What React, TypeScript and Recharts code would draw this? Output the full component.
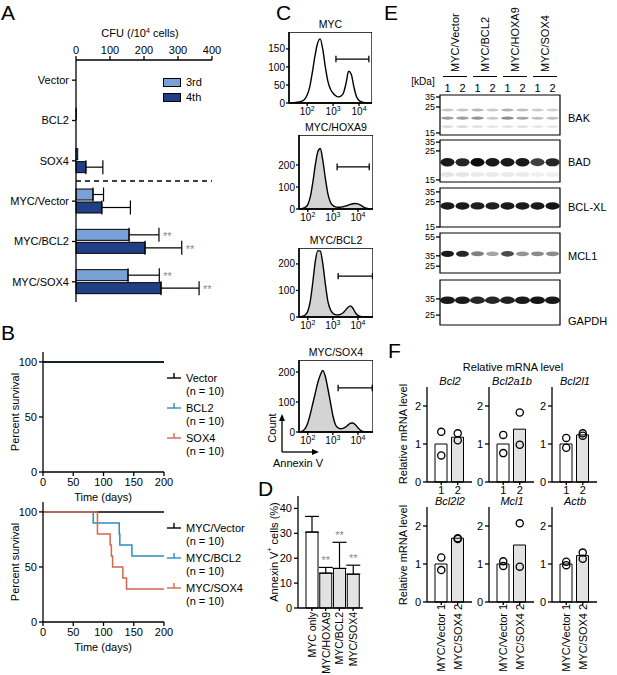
import React from "react";
import {
  Area,
  AreaChart,
  Bar,
  BarChart,
  Cell,
  ComposedChart,
  ErrorBar,
  LabelList,
  Line,
  LineChart,
  ReferenceArea,
  ReferenceLine,
  Scatter,
  ScatterChart,
  XAxis,
  YAxis,
} from "recharts";

const FONT = '"Liberation Sans", Arial, sans-serif';

// A: colony forming units
const cfuGroups = ["Vector", "BCL2", "SOX4", "MYC/Vector", "MYC/BCL2", "MYC/SOX4"];
const cfu3rd = [0, 1, 5, 50, 156, 153];
const cfu3rdErr = [0, 0, 0, 31, 88, 92];
const cfu4th = [0, 0, 29, 76, 203, 250];
const cfu4thErr = [0, 0, 50, 84, 108, 112];
const cfuStars = ["", "", "", "", "**", "**"];
const cfuTicks = [0, 100, 200, 300, 400];

// B: survival curves (time in days, percent)
const survTicksX = [0, 50, 100, 150, 200];
const survTicksY = [0, 50, 100];
const vectorT = [0, 200];
const vectorP = [100, 100];
const bcl2T = [0, 200];
const bcl2P = [100, 100];
const sox4T = [0, 200];
const sox4P = [100, 100];
const mycVectorT = [0, 200];
const mycVectorP = [100, 100];
const mycBcl2T = [0, 83, 126, 127, 147, 200];
const mycBcl2P = [100, 90, 80, 70, 60, 60];
const mycSox4T = [0, 90, 111, 113, 115, 132, 138, 200];
const mycSox4P = [100, 80, 70, 60, 50, 40, 30, 30];

// C: annexin V histograms (log10 fluorescence bins)
const histBins = [
  1.4, 1.5, 1.6, 1.7, 1.8, 1.9, 2.0, 2.1, 2.2, 2.3, 2.4, 2.5, 2.6, 2.7, 2.8, 2.9,
  3.0, 3.1, 3.2, 3.3, 3.4, 3.5, 3.6, 3.7, 3.8, 3.9, 4.0, 4.1, 4.2, 4.3, 4.4, 4.5,
];
const histMyc = [0, 1, 2, 3, 5, 10, 22, 45, 85, 130, 165, 178, 150, 100, 60, 38, 27, 20, 17, 19, 28, 55, 88, 80, 45, 18, 7, 3, 1, 0, 0, 0];
const histHoxa9 = [0, 0, 0, 1, 3, 8, 20, 55, 120, 200, 260, 275, 220, 140, 70, 32, 16, 10, 8, 8, 10, 13, 17, 21, 24, 25, 23, 18, 11, 5, 2, 0];
const histBcl2 = [0, 0, 0, 1, 3, 8, 22, 60, 130, 210, 250, 248, 200, 125, 60, 28, 14, 9, 8, 10, 15, 25, 36, 42, 33, 16, 6, 2, 1, 0, 0, 0];
const histSox4 = [0, 0, 0, 1, 4, 12, 30, 60, 95, 130, 165, 190, 205, 185, 145, 100, 55, 25, 14, 11, 12, 16, 23, 29, 30, 24, 14, 6, 2, 0, 0, 0];
const histCounts = [histMyc, histHoxa9, histBcl2, histSox4];
const histTitles = ["MYC", "MYC/HOXA9", "MYC/BCL2", "MYC/SOX4"];
const histYMax = [197, 336, 260, 240];
const histYTicks = [[0, 50, 100, 150], [0, 100, 200], [0, 100, 200], [0, 100, 200]];
const histGateX = [[3.11, 4.38], [3.17, 4.45], [3.21, 4.58], [3.21, 4.57]];
const histGateY = [122, 191, 154, 147];

// D: annexin V+ cells
const annexGroups = ["MYC only", "MYC/HOXA9", "MYC/BCL2", "MYC/SOX4"];
const annexMean = [30.5, 14.0, 15.9, 13.6];
const annexErr = [6.3, 2.3, 10.5, 3.6];
const annexStars = ["", "**", "**", "**"];
const annexTicks = [0, 10, 20, 30, 40];

// E: western blots
const laneGroups = ["MYC/Vector", "MYC/BCL2", "MYC/HOXA9", "MYC/SOX4"];
const laneNumbers = ["1", "2", "1", "2", "1", "2", "1", "2"];
const lanes = [1, 2, 3, 4, 5, 6, 7, 8];
const blotNames = ["BAK", "BAD", "BCL-XL", "MCL1", "GAPDH"];
const blotMarkers = [["35", "25", "15"], ["35", "25", "15"], ["35", "25", "15"], ["55", "35", "25"], ["35", "25"]];
const blotMarkerPos = [[0.05, 0.3, 0.95], [0.05, 0.26, 0.95], [0.1, 0.35, 1.0], [0.1, 0.57, 0.83], [0.42, 0.78]];
const blotBandPos = [[0.375, 0.58, 0.79], [0.53, 0.82], [0.46], [0.52], [0.45]];
const blotBandA = [
  [
    [0.22, 0.22, 0.28, 0.2, 0.3, 0.25, 0.2, 0.18],
    [0.38, 0.38, 0.42, 0.22, 0.45, 0.35, 0.25, 0.25],
    [0.15, 0.15, 0.12, 0.1, 0.12, 0.12, 0.1, 0.1],
  ],
  [
    [0.95, 0.9, 1.0, 0.95, 0.95, 0.95, 0.8, 0.9],
    [0.1, 0.1, 0.08, 0.08, 0.08, 0.08, 0.06, 0.06],
  ],
  [[0.95, 0.95, 0.93, 0.93, 0.95, 0.95, 0.95, 0.97]],
  [[0.95, 0.9, 0.5, 0.35, 0.75, 0.42, 0.45, 0.45]],
  [[0.95, 0.95, 0.9, 0.9, 0.92, 0.95, 0.97, 0.95]],
];

// F: relative mRNA level
const mrnaGenes = ["Bcl2", "Bcl2a1b", "Bcl2l1", "Bcl2l2", "Mcl1", "Actb"];
const mrnaMean1 = [1, 1, 1, 1, 1, 1];
const mrnaMean2 = [1.18, 1.39, 1.24, 1.68, 1.5, 1.22];
const mrnaRep1A = [1.32, 1.24, 1.16, 1.17, 1.07, 1.06];
const mrnaRep1B = [0.7, 0.76, 0.9, 0.84, 0.95, 0.97];
const mrnaRep2A = [1.28, 1.83, 1.28, 1.68, 2.07, 1.3];
const mrnaRep2B = [1.1, 0.98, 1.22, 1.66, 0.93, 1.14];
const mrnaGroups = ["MYC/Vector", "MYC/SOX4"];
const mrnaTicks = [0, 1, 2];

const AXIS = { stroke: "#000", strokeWidth: 1.3 };
const TICK11 = { fill: "#000", fontSize: 11, fontFamily: FONT };
const TICK10 = { fill: "#000", fontSize: 10, fontFamily: FONT };
const TICK9 = { fill: "#000", fontSize: 9, fontFamily: FONT };
const C3 = "#7aa0d8";
const C4 = "#1f3f86";
const BLUE = "#2b8cc4";
const RED = "#d6664c";
const STAR = "#8a8a8a";

function Txt({ x, y, children, size = 11, anchor = "middle", italic = false }: any) {
  const tx = anchor === "middle" ? "-50%" : anchor === "end" ? "-100%" : "0%";
  return (
    <div
      style={{
        position: "absolute",
        left: x,
        top: y,
        transform: `translate(${tx},-50%)`,
        fontSize: size,
        lineHeight: 1,
        whiteSpace: "nowrap",
        fontStyle: italic ? "italic" : "normal",
      }}
    >
      {children}
    </div>
  );
}

// text reading bottom to top
function VTxt({ x, y, children, size = 11, anchor = "middle" }: any) {
  const ty = anchor === "middle" ? "-50%" : "-100%";
  return (
    <div
      style={{
        position: "absolute",
        left: x,
        top: y,
        transform: `translate(-50%,${ty}) rotate(180deg)`,
        writingMode: "vertical-rl",
        fontSize: size,
        lineHeight: 1,
        whiteSpace: "nowrap",
      }}
    >
      {children}
    </div>
  );
}

function Letter({ x, y, children }: any) {
  return (
    <div style={{ position: "absolute", left: x, top: y, fontSize: 21, lineHeight: 1.1 }}>{children}</div>
  );
}

function boxOf(p: any) {
  return p.viewBox && p.viewBox.width !== undefined ? p.viewBox : p;
}

// horizontal bar with its significance mark placed past the error bar
const cfuShape = (vals: number[], errs: number[], fill: string) => (p: any) => {
  const i = cfuGroups.indexOf(p.payload ? p.payload.g : "");
  const w = Math.max(0, p.width || 0);
  const showStar = i >= 0 && cfuStars[i] && vals[i] > 0;
  const end = showStar ? p.x + (w * (vals[i] + errs[i])) / vals[i] : 0;
  return (
    <g>
      <rect x={p.x} y={p.y} width={w} height={p.height} fill={fill} stroke="#000" strokeWidth={1} />
      {showStar ? (
        <text x={end + 4} y={p.y + p.height / 2 + 5} fontSize={11} fill={STAR} fontFamily={FONT}>
          {cfuStars[i]}
        </text>
      ) : null}
    </g>
  );
};

function PanelA() {
  const data = cfuGroups.map((g, i) => ({
    g,
    r3: cfu3rd[i],
    r4: cfu4th[i],
    e3: cfu3rdErr[i] > 0 ? [0, cfu3rdErr[i]] : null,
    e4: cfu4thErr[i] > 0 ? [0, cfu4thErr[i]] : null,
  }));
  return (
    <>
      <Letter x={1} y={1}>A</Letter>
      <Txt x={140} y={33}>
        CFU (/10<sup style={{ fontSize: 7 }}>4</sup> cells)
      </Txt>
      <div style={{ position: "absolute", left: 0, top: 0 }}>
        <BarChart
          width={240}
          height={302}
          data={data}
          layout="vertical"
          margin={{ top: 30, right: 28, bottom: 0, left: 0 }}
          barSize={11}
          barGap={2}
        >
          <XAxis
            type="number"
            orientation="top"
            domain={[0, 400]}
            ticks={cfuTicks}
            height={30}
            tickSize={4}
            tickMargin={2}
            axisLine={AXIS}
            tickLine={AXIS}
            tick={TICK11}
          />
          <YAxis
            type="category"
            dataKey="g"
            width={76}
            tickSize={4}
            tickMargin={3}
            interval={0}
            axisLine={AXIS}
            tickLine={AXIS}
            tick={TICK11}
          />
          <ReferenceLine y="MYC/Vector" position="start" stroke="#000" strokeWidth={1.3} strokeDasharray="5 4" />
          <Bar dataKey="r3" fill={C3} shape={cfuShape(cfu3rd, cfu3rdErr, C3)} isAnimationActive={false}>
            <ErrorBar dataKey="e3" direction="x" width={7} stroke="#000" strokeWidth={1.2} isAnimationActive={false} />
          </Bar>
          <Bar dataKey="r4" fill={C4} shape={cfuShape(cfu4th, cfu4thErr, C4)} isAnimationActive={false}>
            <ErrorBar dataKey="e4" direction="x" width={7} stroke="#000" strokeWidth={1.2} isAnimationActive={false} />
          </Bar>
        </BarChart>
      </div>
      <div style={{ position: "absolute", left: 163, top: 78, width: 16, height: 7, background: C3, border: "1px solid #000" }} />
      <div style={{ position: "absolute", left: 163, top: 93, width: 16, height: 7, background: C4, border: "1px solid #000" }} />
      <Txt x={186} y={82} anchor="start">3rd</Txt>
      <Txt x={186} y={97} anchor="start">4th</Txt>
    </>
  );
}

function LegendItem({ x, y, color, label }: any) {
  return (
    <>
      <svg style={{ position: "absolute", left: x, top: y - 5 }} width={14} height={10}>
        <line x1={0} y1={6} x2={14} y2={6} stroke={color} strokeWidth={1.4} />
        <line x1={7} y1={1} x2={7} y2={6} stroke={color} strokeWidth={1.4} />
      </svg>
      <Txt x={x + 19} y={y + 1} anchor="start">{label}</Txt>
      <Txt x={x + 19} y={y + 14} anchor="start">(n = 10)</Txt>
    </>
  );
}

function toCurve(t: number[], p: number[]) {
  return t.map((v, i) => ({ t: v, p: p[i] }));
}

function SurvivalChart({ top, curves }: any) {
  return (
    <div style={{ position: "absolute", left: 0, top }}>
      <LineChart width={175} height={160} margin={{ top: 12, right: 11, bottom: 0, left: 0 }}>
        <XAxis
          type="number"
          dataKey="t"
          domain={[0, 200]}
          ticks={survTicksX}
          height={28}
          tickSize={4}
          tickMargin={2}
          axisLine={AXIS}
          tickLine={AXIS}
          tick={TICK11}
        />
        <YAxis
          type="number"
          domain={[0, 109]}
          ticks={survTicksY}
          width={43}
          tickSize={4}
          tickMargin={2}
          axisLine={AXIS}
          tickLine={AXIS}
          tick={TICK11}
        />
        {curves.map((c: any, i: number) => (
          <Line
            key={i}
            data={c.data}
            dataKey="p"
            type="stepAfter"
            stroke={c.color}
            strokeWidth={1.5}
            dot={false}
            activeDot={false}
            isAnimationActive={false}
          />
        ))}
      </LineChart>
    </div>
  );
}

function PanelB() {
  return (
    <>
      <Letter x={1} y={321}>B</Letter>
      <SurvivalChart
        top={340}
        curves={[
          { data: toCurve(sox4T, sox4P), color: RED },
          { data: toCurve(bcl2T, bcl2P), color: BLUE },
          { data: toCurve(vectorT, vectorP), color: "#000" },
        ]}
      />
      <Txt x={103} y={497}>Time (days)</Txt>
      <VTxt x={15} y={412}>Percent survival</VTxt>
      <LegendItem x={167} y={377} color="#000" label="Vector" />
      <LegendItem x={167} y={407} color={BLUE} label="BCL2" />
      <LegendItem x={167} y={437} color={RED} label="SOX4" />

      <SurvivalChart
        top={490}
        curves={[
          { data: toCurve(mycVectorT, mycVectorP), color: "#000" },
          { data: toCurve(mycBcl2T, mycBcl2P), color: BLUE },
          { data: toCurve(mycSox4T, mycSox4P), color: RED },
        ]}
      />
      <Txt x={103} y={647}>Time (days)</Txt>
      <VTxt x={15} y={562}>Percent survival</VTxt>
      <LegendItem x={167} y={527} color="#000" label="MYC/Vector" />
      <LegendItem x={167} y={557} color={BLUE} label="MYC/BCL2" />
      <LegendItem x={167} y={587} color={RED} label="MYC/SOX4" />
    </>
  );
}

const LogTick = (p: any) => (
  <text x={p.x} y={p.y} dy={8} textAnchor="middle" fontSize={10} fontFamily={FONT} fill="#000">
    10
    <tspan dy={-4} fontSize={7}>
      {p.payload.value}
    </tspan>
  </text>
);

function Histo({ i, left, top, plotW, plotH, xDomain }: any) {
  const yW = 25;
  const data = histBins.map((x, k) => ({ x, c: histCounts[i][k] }));
  const yMax = histYMax[i];
  const cap = yMax * 0.045;
  const [g1, g2] = histGateX[i];
  const gy = histGateY[i];
  const seg = { stroke: "#000", strokeWidth: 1.3 };
  return (
    <>
      <Txt x={left + plotW / 2} y={top - 8} size={10.5}>{histTitles[i]}</Txt>
      <div style={{ position: "absolute", left: left - yW, top }}>
        <AreaChart width={yW + plotW} height={plotH + 16} data={data} margin={{ top: 0, right: 0, bottom: 0, left: 0 }}>
          <XAxis
            type="number"
            dataKey="x"
            domain={xDomain}
            allowDataOverflow
            ticks={[2, 3, 4]}
            tick={(p: any) => <LogTick {...p} />}
            height={16}
            tickSize={3}
            tickMargin={1}
            axisLine={AXIS}
            tickLine={AXIS}
          />
          <YAxis
            type="number"
            domain={[0, yMax]}
            allowDataOverflow
            ticks={histYTicks[i]}
            interval={0}
            width={yW}
            tickSize={3}
            tickMargin={1}
            axisLine={AXIS}
            tickLine={AXIS}
            tick={TICK10}
          />
          <Area
            type="monotone"
            dataKey="c"
            stroke="#000"
            strokeWidth={1.4}
            fill={i === 0 ? "none" : "#d4d4d4"}
            fillOpacity={1}
            dot={false}
            activeDot={false}
            isAnimationActive={false}
          />
          <ReferenceArea x1={xDomain[0]} x2={xDomain[1]} y1={0} y2={yMax} fill="none" stroke="#000" strokeWidth={1.3} />
          <ReferenceLine segment={[{ x: g1, y: gy }, { x: g2, y: gy }]} {...seg} />
          <ReferenceLine segment={[{ x: g1, y: gy - cap }, { x: g1, y: gy + cap }]} {...seg} />
          <ReferenceLine segment={[{ x: g2, y: gy - cap }, { x: g2, y: gy + cap }]} {...seg} />
        </AreaChart>
      </div>
    </>
  );
}

function PanelC() {
  return (
    <>
      <Letter x={276} y={1}>C</Letter>
      <Histo i={0} left={289} top={32} plotW={83} plotH={71} xDomain={[1.3, 4.5]} />
      <Histo i={1} left={299} top={135} plotW={74} plotH={74} xDomain={[1.65, 4.6]} />
      <Histo i={2} left={299} top={248} plotW={74} plotH={69} xDomain={[1.65, 4.6]} />
      <Histo i={3} left={299} top={360} plotW={74} plotH={72} xDomain={[1.65, 4.6]} />
      <svg style={{ position: "absolute", left: 276, top: 413 }} width={46} height={44}>
        <line x1={6} y1={39} x2={6} y2={6} stroke="#000" strokeWidth={1.3} />
        <polygon points="6,1 3,8 9,8" fill="#000" />
        <line x1={6} y1={39} x2={38} y2={39} stroke="#000" strokeWidth={1.3} />
        <polygon points="43,39 36,36 36,42" fill="#000" />
      </svg>
      <VTxt x={272} y={428}>Count</VTxt>
      <Txt x={298} y={463}>Annexin V</Txt>
    </>
  );
}

const DTick = (p: any) => (
  <text
    transform={`translate(${p.x},${p.y}) rotate(-90)`}
    textAnchor="end"
    dominantBaseline="central"
    fontSize={10.5}
    fontFamily={FONT}
    fill="#000"
  >
    {p.payload.value}
  </text>
);

function PanelD() {
  const data = annexGroups.map((g, i) => ({ g, v: annexMean[i], e: [0, annexErr[i]], s: annexStars[i] }));
  const stars = (p: any) => {
    const i = p.index;
    if (!annexStars[i]) return null;
    const b = boxOf(p);
    const yTop = b.y + b.height - (b.height * (annexMean[i] + annexErr[i])) / annexMean[i];
    return (
      <text x={b.x + b.width / 2} y={yTop - 3} textAnchor="middle" fontSize={11} fill={STAR} fontFamily={FONT}>
        {annexStars[i]}
      </text>
    );
  };
  return (
    <>
      <Letter x={258} y={477}>D</Letter>
      <VTxt x={273} y={552}>
        Annexin V<sup style={{ fontSize: 7 }}>+</sup> cells (%)
      </VTxt>
      <div style={{ position: "absolute", left: 230, top: 486 }}>
        <BarChart width={140} height={189} data={data} margin={{ top: 10, right: 7, bottom: 0, left: 0 }}>
          <XAxis
            dataKey="g"
            height={67}
            padding={{ left: 7, right: 3 }}
            interval={0}
            tickSize={3}
            tickMargin={1}
            axisLine={AXIS}
            tickLine={AXIS}
            tick={(p: any) => <DTick {...p} />}
          />
          <YAxis
            type="number"
            domain={[0, 45]}
            ticks={annexTicks}
            interval={0}
            width={68}
            tickSize={4}
            tickMargin={2}
            axisLine={AXIS}
            tickLine={AXIS}
            tick={TICK11}
          />
          <Bar dataKey="v" barSize={12} stroke="#000" strokeWidth={1} isAnimationActive={false}>
            {data.map((d, i) => (
              <Cell key={d.g} fill={i === 0 ? "#fff" : "#e2e2e2"} />
            ))}
            <ErrorBar dataKey="e" direction="y" width={7} stroke="#000" strokeWidth={1.2} isAnimationActive={false} />
            <LabelList dataKey="s" content={stars} />
          </Bar>
        </BarChart>
      </div>
    </>
  );
}

const BLOT_LEFT = 440;
const BLOT_W = 120;
const BLOT_PAD = 6;
const laneX = (lane: number) => BLOT_LEFT + ((lane - 0.5) * BLOT_W) / 8;

function Blot({ i, top, h, ry, rx }: any) {
  const data: any[] = [];
  blotBandPos[i].forEach((pos, b) =>
    blotBandA[i][b].forEach((a, l) => data.push({ lane: lanes[l], pos, a }))
  );
  const showLanes = i === 0;
  const xh = showLanes ? 14 : 0;
  const shape = (p: any) => {
    const a = p.payload.a;
    return (
      <ellipse
        cx={p.cx}
        cy={p.cy}
        rx={rx}
        ry={ry * (0.55 + 0.45 * a)}
        fill="#0b0b0b"
        fillOpacity={Math.min(1, a)}
        filter={`url(#bandBlur${i})`}
      />
    );
  };
  return (
    <div style={{ position: "absolute", left: BLOT_LEFT - 34, top: top - xh - BLOT_PAD }}>
      <ScatterChart
        width={34 + BLOT_W + 2}
        height={h + xh + 2 * BLOT_PAD}
        margin={{ top: BLOT_PAD, right: 2, bottom: BLOT_PAD, left: 0 }}
      >
        <defs>
          <filter id={`bandBlur${i}`} x="-50%" y="-100%" width="200%" height="300%">
            <feGaussianBlur stdDeviation="0.7" />
          </filter>
        </defs>
        <XAxis
          type="number"
          dataKey="lane"
          domain={[0.5, 8.5]}
          ticks={lanes}
          interval={0}
          orientation="top"
          hide={!showLanes}
          height={xh}
          axisLine={false}
          tickLine={false}
          tickSize={1}
          tickMargin={2}
          tickFormatter={(v: number) => laneNumbers[v - 1]}
          tick={TICK11}
        />
        <YAxis
          type="number"
          dataKey="pos"
          domain={[0, 1]}
          reversed
          ticks={blotMarkerPos[i]}
          interval={0}
          tickFormatter={(v: number) => blotMarkers[i][blotMarkerPos[i].indexOf(v)]}
          width={34}
          tickSize={4}
          tickMargin={1}
          axisLine={false}
          tickLine={AXIS}
          tick={TICK9}
        />
        <ReferenceArea x1={0.5} x2={8.5} y1={0} y2={1} fill="none" stroke="#000" strokeWidth={1.2} />
        <Scatter data={data} shape={shape} isAnimationActive={false} />
      </ScatterChart>
    </div>
  );
}

function PanelE() {
  const tops = [95, 140, 188, 233, 280];
  const hs = [40, 42, 39, 40, 45];
  const rys = [2.2, 4.3, 3.8, 3.2, 3.8];
  const rxs = [6.3, 7, 7, 6.5, 7.5];
  const labelY = [118, 162, 207, 256, 321];
  return (
    <>
      <Letter x={384} y={1}>E</Letter>
      {laneGroups.map((g, k) => {
        const cx = (laneX(2 * k + 1) + laneX(2 * k + 2)) / 2;
        return (
          <React.Fragment key={g}>
            <VTxt x={cx} y={72} anchor="start">{g}</VTxt>
            <div style={{ position: "absolute", left: cx - 12, top: 76, width: 24, height: 1, background: "#000" }} />
          </React.Fragment>
        );
      })}
      <Txt x={423} y={82} size={10}>[kDa]</Txt>
      {blotNames.map((n, i) => (
        <React.Fragment key={n}>
          <Blot i={i} top={tops[i]} h={hs[i]} ry={rys[i]} rx={rxs[i]} />
          <Txt x={568} y={labelY[i]} anchor="start" size={11}>{n}</Txt>
        </React.Fragment>
      ))}
    </>
  );
}

const Ring = (p: any) => <circle cx={p.cx} cy={p.cy} r={3.6} fill="none" stroke="#000" strokeWidth={1.3} />;

const FTick2 = (p: any) => (
  <g>
    <text
      transform={`translate(${p.x},${p.y + 1}) rotate(-90)`}
      textAnchor="middle"
      dominantBaseline="central"
      fontSize={11}
      fontFamily={FONT}
      fill="#000"
    >
      {p.payload.value}
    </text>
    <text
      transform={`translate(${p.x},${p.y + 7}) rotate(-90)`}
      textAnchor="end"
      dominantBaseline="central"
      fontSize={11}
      fontFamily={FONT}
      fill="#000"
    >
      {mrnaGroups[Number(p.payload.value) - 1]}
    </text>
  </g>
);

function Mrna({ i, left, top, row2 }: any) {
  const data = [
    { g: "1", m: mrnaMean1[i], r1: mrnaRep1A[i], r2: mrnaRep1B[i] },
    { g: "2", m: mrnaMean2[i], r1: mrnaRep2A[i], r2: mrnaRep2B[i] },
  ];
  const plotH = 95;
  const xh = row2 ? 72 : 16;
  return (
    <>
      <Txt x={left + 23} y={top - 6} italic>{mrnaGenes[i]}</Txt>
      <div style={{ position: "absolute", left: left - 22, top }}>
        <ComposedChart width={67} height={plotH + xh} data={data} margin={{ top: 0, right: 0, bottom: 0, left: 0 }}>
          <XAxis
            dataKey="g"
            padding={{ left: 6, right: 6 }}
            height={xh}
            interval={0}
            tickSize={3}
            tickMargin={1}
            axisLine={AXIS}
            tickLine={AXIS}
            tick={row2 ? (p: any) => <FTick2 {...p} /> : TICK11}
          />
          <YAxis
            type="number"
            domain={[0, 2.5]}
            ticks={mrnaTicks}
            interval={0}
            width={22}
            tickSize={4}
            tickMargin={2}
            axisLine={AXIS}
            tickLine={AXIS}
            tick={TICK11}
          />
          <Bar dataKey="m" barSize={12} stroke="#000" strokeWidth={1} isAnimationActive={false}>
            <Cell fill="#fff" />
            <Cell fill="#e2e2e2" />
          </Bar>
          <Scatter dataKey="r1" shape={Ring} isAnimationActive={false} />
          <Scatter dataKey="r2" shape={Ring} isAnimationActive={false} />
        </ComposedChart>
      </div>
    </>
  );
}

function PanelF() {
  const lefts = [427, 489, 552];
  return (
    <>
      <Letter x={388} y={339}>F</Letter>
      <Txt x={513} y={367}>Relative mRNA level</Txt>
      <VTxt x={403} y={434}>Relative mRNA level</VTxt>
      <VTxt x={403} y={555}>Relative mRNA level</VTxt>
      {lefts.map((l, k) => (
        <Mrna key={k} i={k} left={l} top={387} row2={false} />
      ))}
      {lefts.map((l, k) => (
        <Mrna key={k + 3} i={k + 3} left={l} top={507} row2 />
      ))}
    </>
  );
}

export default function App() {
  return (
    <div
      style={{
        position: "absolute",
        left: 0,
        top: 0,
        width: 617,
        height: 675,
        overflow: "hidden",
        background: "#fff",
        fontFamily: FONT,
        color: "#000",
      }}
    >
      <PanelA />
      <PanelB />
      <PanelC />
      <PanelD />
      <PanelE />
      <PanelF />
    </div>
  );
}
